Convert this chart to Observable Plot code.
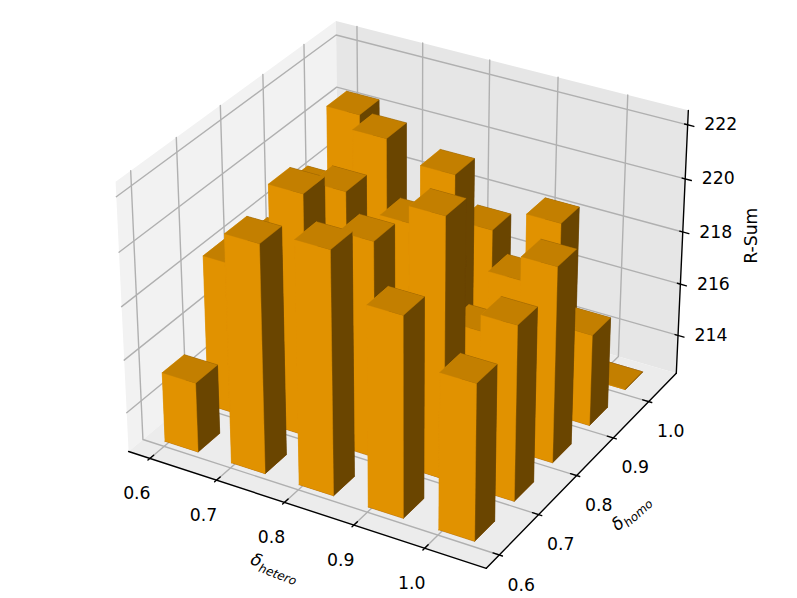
<!DOCTYPE html>
<html>
<head>
<meta charset="utf-8">
<style>
html,body{margin:0;padding:0;background:#fff;}
svg{display:block;}
</style>
<script src="https://cdn.jsdelivr.net/npm/d3@7"></script>
<script src="https://cdn.jsdelivr.net/npm/@observablehq/plot@0.6"></script>
</head>
<body>
<script>
// ---- data ----
const hetero = [0.6, 0.7, 0.8, 0.9, 1.0];
const homo = [0.6, 0.7, 0.8, 0.9, 1.0];
const rsumHomo06 = [215.27, 221.16, 221.68, 220.1, 218.45];
const rsumHomo07 = [218.35, 221.7, 220.7, 222.33, 219.17];
const rsumHomo08 = [217.9, 220.55, 220.05, 216.8, 219.97];
const rsumHomo09 = [218.65, 221.3, 220.65, 217.4, 216.1];
const rsumHomo10 = [220.35, 216.5, 217.32, 218.3, 212.63];
const rsum = [rsumHomo06, rsumHomo07, rsumHomo08, rsumHomo09, rsumHomo10];
const rsumBase = 212.63;
const zTicks = [214, 216, 218, 220, 222];
const xTickLabels = ["0.6", "0.7", "0.8", "0.9", "1.0"];
const yTickLabels = ["0.6", "0.7", "0.8", "0.9", "1.0"];
const zTickLabels = ["214", "216", "218", "220", "222"];
const barOrigin = {dx: -0.001, dy: 0.004};
const barSize = {dx: 0.05, dy: 0.05};

// ---- view: 3D camera, elevation 30, azimuth -60, distance 10 ----
const xlim = [0.578, 1.075], ylim = [0.578, 1.07], zlim = [212.7, 222.33];
const pad = l => (l[1] - l[0]) / 48;
const xp = [xlim[0] - pad(xlim), xlim[1] + pad(xlim)];
const yp = [ylim[0] - pad(ylim), ylim[1] + pad(ylim)];
const zp = [zlim[0] - pad(zlim), zlim[1] + pad(zlim)];
const k = 1.8294640721620434 / Math.hypot(4, 4, 3);
const box = [4 * k, 4 * k, 3 * k];
const U = [Math.sqrt(3) / 2, 0.5, 0], W = [0.433013, -0.75, 0.5], V = [-0.25, 0.433013, 0.866025];
function project(X, Y, Z) {
  const p = [
    (X - xlim[0]) / (xlim[1] - xlim[0]) * box[0] - box[0] / 2,
    (Y - ylim[0]) / (ylim[1] - ylim[0]) * box[1] - box[1] / 2,
    (Z - zlim[0]) / (zlim[1] - zlim[0]) * box[2] - box[2] / 2
  ];
  const dot = a => a[0] * p[0] + a[1] * p[1] + a[2] * p[2];
  const d = 10 - dot(W);
  return {px: dot(U) / d, py: dot(V) / d, pz: -10 / d};
}
const SCALE = 3442, OX = 407, OY = 281, SPAN = 0.12;

// ---- polygons ----
const polys = [];
function addPoly(id, pts, c) {
  pts.concat([pts[0]]).forEach(q => {
    const r = project(q[0], q[1], q[2]);
    polys.push({id, px: r.px, py: r.py, c});
  });
}
const panes = [];
const pane = (id, pts, c) => pts.concat([pts[0]]).forEach(q => panes.push({id, ...project(...q), c}));
pane("left", [[xp[0], yp[0], zp[0]], [xp[0], yp[1], zp[0]], [xp[0], yp[1], zp[1]], [xp[0], yp[0], zp[1]]], "#f2f2f2");
pane("back", [[xp[0], yp[1], zp[0]], [xp[1], yp[1], zp[0]], [xp[1], yp[1], zp[1]], [xp[0], yp[1], zp[1]]], "#e6e6e6");
pane("floor", [[xp[0], yp[0], zp[0]], [xp[1], yp[0], zp[0]], [xp[1], yp[1], zp[0]], [xp[0], yp[1], zp[0]]], "#ececec");

const grid = [];
const gridLine = (id, pts) => pts.forEach(q => grid.push({id, ...project(...q)}));
hetero.forEach(v => gridLine("x" + v, [[v, yp[0], zp[0]], [v, yp[1], zp[0]], [v, yp[1], zp[1]]]));
homo.forEach(v => gridLine("y" + v, [[xp[1], v, zp[0]], [xp[0], v, zp[0]], [xp[0], v, zp[1]]]));
zTicks.forEach(v => gridLine("z" + v, [[xp[0], yp[0], v], [xp[0], yp[1], v], [xp[1], yp[1], v]]));

const axes = [];
const axisLine = (id, pts) => pts.forEach(q => axes.push({id, ...project(...q)}));
axisLine("xaxis", [[xp[0], yp[0], zp[0]], [xp[1], yp[0], zp[0]]]);
axisLine("yaxis", [[xp[1], yp[0], zp[0]], [xp[1], yp[1], zp[0]]]);
axisLine("zaxis", [[xp[1], yp[1], zp[0]], [xp[1], yp[1], zp[1]]]);
const dY = (yp[1] - yp[0]) / 12, dX = (xp[1] - xp[0]) / 12;
hetero.forEach(v => axisLine("tx" + v, [[v, yp[0] - 0.1 * dY, zp[0]], [v, yp[0] + 0.2 * dY, zp[0]]]));
homo.forEach(v => axisLine("ty" + v, [[xp[1] + 0.1 * dX, v, zp[0]], [xp[1] - 0.2 * dX, v, zp[0]]]));
zTicks.forEach(v => axisLine("tz" + v, [[xp[1] + 0.2 * dX, yp[1], v], [xp[1] - 0.1 * dX, yp[1], v]]));

// bars: all six faces of all bars, painter-sorted on mean depth
const ORANGE_FRONT = "#e19200", ORANGE_TOP = "#c37f00", ORANGE_SIDE = "#6a4500", ORANGE_BOTTOM = "#884500";
const faces = [];
homo.forEach((hy, j) => hetero.forEach((hx, i) => {
  const x0 = hx + barOrigin.dx, x1 = x0 + barSize.dx, y0 = hy + barOrigin.dy, y1 = y0 + barSize.dy;
  const z0 = rsumBase, z1 = rsum[j][i];
  const a = [x0, y0, z0], b = [x1, y0, z0], c = [x1, y1, z0], d = [x0, y1, z0];
  const e = [x0, y0, z1], f = [x1, y0, z1], g = [x1, y1, z1], h = [x0, y1, z1];
  [[[a, b, c, d], ORANGE_BOTTOM], [[e, f, g, h], ORANGE_TOP], [[a, b, f, e], ORANGE_FRONT],
   [[d, c, g, h], ORANGE_SIDE], [[a, d, h, e], ORANGE_FRONT], [[b, c, g, f], ORANGE_SIDE]].forEach(([pts, col], n) => {
    const depth = d3.mean(pts, q => project(...q).pz);
    faces.push({id: `${i}-${j}-${n}`, pts, col, depth});
  });
}));
faces.sort((m, n) => n.depth - m.depth);
faces.forEach(fc => addPoly(fc.id, fc.pts, fc.col));

const xTickRows = hetero.map((v, i) => ({...project(v, yp[0], zp[0]), t: xTickLabels[i]}));
const yTickRows = homo.map((v, i) => ({...project(xp[1], v, zp[0]), t: yTickLabels[i]}));
const zTickRows = zTicks.map((v, i) => ({...project(xp[1], yp[1], v), t: zTickLabels[i]}));
const font = "DejaVu Sans";
const labelX = project((xp[0] + xp[1]) / 2, yp[0], zp[0]);
const labelY = project(xp[1], (yp[0] + yp[1]) / 2, zp[0]);
const labelZ = project(xp[1], yp[1], (zp[0] + zp[1]) / 2);

const chart = Plot.plot({
  width: 797, height: 598,
  marginTop: 0, marginRight: 0, marginBottom: 0, marginLeft: 0,
  style: {background: "#fff", fontFamily: font},
  x: {domain: [-SPAN, SPAN], range: [OX - SPAN * SCALE, OX + SPAN * SCALE], axis: null},
  y: {domain: [-SPAN, SPAN], range: [OY + SPAN * SCALE, OY - SPAN * SCALE], axis: null},
  color: {type: "identity"},
  marks: [
    Plot.line(panes, {x: "px", y: "py", z: "id", fill: "c", stroke: "none"}),
    Plot.line(grid, {x: "px", y: "py", z: "id", stroke: "#b0b0b0", strokeWidth: 1.4}),
    Plot.line(axes, {x: "px", y: "py", z: "id", stroke: "#000", strokeWidth: 1.4}),
    Plot.line(polys, {x: "px", y: "py", z: "id", fill: "c", stroke: "c", strokeWidth: 0.4}),
    Plot.text(xTickRows, {x: "px", y: "py", text: "t", dx: -13, dy: 35, fontSize: 17.3, fill: "#000"}),
    Plot.text(yTickRows, {x: "px", y: "py", text: "t", dx: 22, dy: 30, fontSize: 17.3, fill: "#000"}),
    Plot.text(zTickRows, {x: "px", y: "py", text: "t", dx: 33, dy: 0, fontSize: 17.3, fill: "#000"}),
    Plot.text(["δhetero"], {x: labelX.px, y: labelX.py, dx: -28, dy: 59, rotate: 21, fontSize: 17.3, fill: "#000", className: "mathlabel"}),
    Plot.text(["δhomo"], {x: labelY.px, y: labelY.py, dx: 45, dy: 46, rotate: -42, fontSize: 17.3, fill: "#000", className: "mathlabel"}),
    Plot.text(["R-Sum"], {x: labelZ.px, y: labelZ.py, dx: 69, dy: -9, rotate: -90, fontSize: 17.3, fill: "#000"})
  ]
});
d3.select(chart).selectAll(".mathlabel text").each(function () {
  const s = d3.select(this), str = s.text();
  s.text(null);
  s.append("tspan").attr("font-style", "italic").text(str[0]);
  s.append("tspan").attr("font-style", "italic").attr("font-size", 12).attr("dy", "0.35em").text(str.slice(1));
});
document.body.appendChild(chart);
</script>
</body>
</html>
